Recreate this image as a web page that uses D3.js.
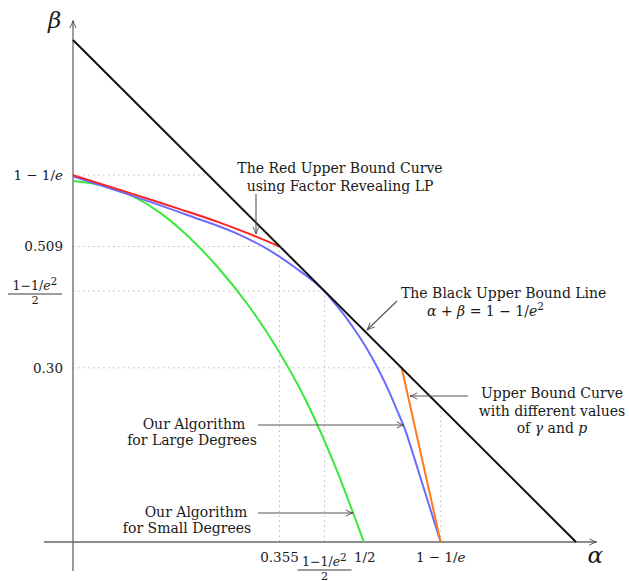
<!DOCTYPE html>
<html>
<head>
<meta charset="utf-8">
<script src="https://cdn.jsdelivr.net/npm/d3@7"></script>
<style>
body{margin:0;background:#fff;}
text{font-family:"DejaVu Serif",serif;fill:#1a1a1a;}
</style>
</head>
<body>
<script>
const E1 = 1 - 1/Math.E;            // 0.632
const E2 = 1 - 1/(Math.E*Math.E);   // 0.8647

// curves (alpha, beta)
const redCurve = [[0,0.632],[0.06,0.613],[0.12,0.594],[0.185,0.573],[0.25,0.551],[0.30,0.532],[0.355,0.509]];
const blueCurve = [[0,0.630],[0.1,0.597],[0.2,0.562],[0.28,0.532],[0.33,0.507],[0.38,0.474],[0.432,0.432],
                   [0.445,0.417],[0.467,0.39],[0.488,0.36],[0.507,0.33],[0.525,0.297],[0.542,0.262],
                   [0.557,0.227],[0.571,0.193],[0.585,0.15],[0.600,0.102],[0.616,0.051],[0.632,0]];
const greenCurve = [[0,0.622],[0.05,0.6145],[0.1,0.597],[0.15,0.567],[0.2,0.5245],[0.25,0.472],[0.3,0.4095],
                    [0.35,0.3345],[0.4,0.2445],[0.45,0.132],[0.5,0]];
const orangeCurve = [[0.565,0.30],[0.598,0.152],[0.632,0]];
const blackLine = [[0,E2],[E2,0]];

// tick values and where their dotted guides stop
const yTickValues = [E1, 0.509, E2/2, 0.30];
const yGuideEnds = [E2-E1, 0.355, E2/2, E2-0.30];
const xTickValues = [0.355, E2/2, 0.5, E1];
const xGuideEnds = [0.509, E2/2, null, E2-E1];

const svg = d3.select('body').append('svg')
  .attr('width',629).attr('height',581);

const x = d3.scaleLinear().domain([0,E2]).range([73,576]);
const y = d3.scaleLinear().domain([0,E2]).range([542,40]);

const defs = svg.append('defs');
defs.append('marker').attr('id','arr').attr('viewBox','0 0 10 10')
  .attr('refX',9).attr('refY',5).attr('markerWidth',9).attr('markerHeight',9)
  .attr('markerUnits','userSpaceOnUse').attr('orient','auto')
  .append('path').attr('d','M1,1.5 Q5,4 9,5 Q5,6 1,8.5').style('fill','none').style('stroke','#555').style('stroke-width',1.1);

// dotted guides
const guides = svg.append('g').style('stroke','#bbb').style('stroke-width',1).style('stroke-dasharray','1.5,3.5');
yTickValues.forEach((v,i)=>{
  guides.append('line').attr('x1',x(0)).attr('x2',x(yGuideEnds[i])).attr('y1',y(v)).attr('y2',y(v));
});
xTickValues.forEach((v,i)=>{
  if(xGuideEnds[i]===null) return;
  guides.append('line').attr('x1',x(v)).attr('x2',x(v)).attr('y1',y(0)).attr('y2',y(xGuideEnds[i]));
});

// axes
const axes = svg.append('g').style('stroke','#666').style('stroke-width',1.3);
axes.append('line').attr('x1',x(-0.05)).attr('x2',x(0.9)).attr('y1',y(0)).attr('y2',y(0)).attr('marker-end','url(#arr)');
axes.append('line').attr('x1',x(0)).attr('x2',x(0)).attr('y1',y(-0.05)).attr('y2',y(0.898)).attr('marker-end','url(#arr)');

svg.append('text').attr('x',x(0.9)-9).attr('y',y(0)+21).style('font-style','italic').style('font-size','23px').text('α');
svg.append('text').attr('x',x(0)-25).attr('y',y(0.898)+7).style('font-style','italic').style('font-size','23px').text('β');

const line = d3.line().x(d=>x(d[0])).y(d=>y(d[1])).curve(d3.curveMonotoneX);
const curves = [[greenCurve,'#3be83b'],[blueCurve,'#6b6bff'],[orangeCurve,'#ff7a1a'],[redCurve,'#ff2020'],[blackLine,'#111']];
curves.forEach(([d,c])=>{
  svg.append('path').attr('d',line(d)).style('fill','none').style('stroke',c).style('stroke-width',2);
});

// fraction (1-1/e^2)/2
function frac(g,cx,cy,fs){
  const t = g.append('text').attr('x',cx).attr('y',cy-4).attr('text-anchor','middle').style('font-size',fs+'px');
  t.append('tspan').text('1−1/');
  t.append('tspan').style('font-style','italic').text('e');
  t.append('tspan').attr('dy',-5).style('font-size',(fs*0.85)+'px').text('2');
  g.append('line').attr('x1',cx-27).attr('x2',cx+27).attr('y1',cy).attr('y2',cy).style('stroke','#222').style('stroke-width',0.9);
  g.append('text').attr('x',cx).attr('y',cy+9.5).attr('text-anchor','middle').style('font-size',(fs*0.9)+'px').text('2');
}
function oneMinus(sel){
  sel.append('tspan').text('1 − 1/');
  sel.append('tspan').style('font-style','italic').text('e');
}

// y tick labels
const yl = svg.append('g').style('font-size','13.5px');
oneMinus(yl.append('text').attr('x',x(0)-10).attr('y',y(yTickValues[0])+5).attr('text-anchor','end'));
yl.append('text').attr('x',x(0)-10).attr('y',y(yTickValues[1])+5).attr('text-anchor','end').text('0.509');
frac(yl,x(0)-38,y(yTickValues[2])+3,12.5);
yl.append('text').attr('x',x(0)-10).attr('y',y(yTickValues[3])+5).attr('text-anchor','end').text('0.30');

// x tick labels
const xl = svg.append('g').style('font-size','13.5px');
xl.append('text').attr('x',x(xTickValues[0])).attr('y',y(0)+20).attr('text-anchor','middle').text('0.355');
frac(xl,x(xTickValues[1]),y(0)+28,12.5);
xl.append('text').attr('x',x(xTickValues[2])+1).attr('y',y(0)+20).attr('text-anchor','middle').text('1/2');
oneMinus(xl.append('text').attr('x',x(xTickValues[3])).attr('y',y(0)+20).attr('text-anchor','middle'));

// annotations
const ann = svg.append('g').style('font-size','14px');
function arrow(a0,b0,a1,b1){
  svg.append('line').attr('x1',a0).attr('y1',b0).attr('x2',a1).attr('y2',b1)
    .style('stroke','#555').style('stroke-width',1.1).attr('marker-end','url(#arr)');
}
ann.append('text').attr('x',340).attr('y',173).attr('text-anchor','middle').text('The Red Upper Bound Curve');
ann.append('text').attr('x',340).attr('y',191).attr('text-anchor','middle').text('using Factor Revealing LP');
arrow(256,194,256,234);

ann.append('text').attr('x',401).attr('y',298).text('The Black Upper Bound Line');
const eq = ann.append('text').attr('x',427).attr('y',316);
eq.append('tspan').style('font-style','italic').text('α');
eq.append('tspan').text(' + ');
eq.append('tspan').style('font-style','italic').text('β');
eq.append('tspan').text(' = 1 − 1/');
eq.append('tspan').style('font-style','italic').text('e');
eq.append('tspan').attr('dy',-6).style('font-size','10.5px').text('2');
arrow(397,301,367,330);

ann.append('text').attr('x',552).attr('y',398).attr('text-anchor','middle').text('Upper Bound Curve');
ann.append('text').attr('x',552).attr('y',416).attr('text-anchor','middle').text('with different values');
const gp = ann.append('text').attr('x',552).attr('y',433).attr('text-anchor','middle');
gp.append('tspan').text('of ');
gp.append('tspan').style('font-style','italic').text('γ');
gp.append('tspan').text(' and ');
gp.append('tspan').style('font-style','italic').text('p');
arrow(468,396,410,396);

ann.append('text').attr('x',194).attr('y',429).attr('text-anchor','middle').text('Our Algorithm');
ann.append('text').attr('x',192).attr('y',445).attr('text-anchor','middle').text('for Large Degrees');
arrow(258,425,404,425);

ann.append('text').attr('x',196).attr('y',517).attr('text-anchor','middle').text('Our Algorithm');
ann.append('text').attr('x',187).attr('y',533).attr('text-anchor','middle').text('for Small Degrees');
arrow(258,513,353,513);
</script>
</body>
</html>
